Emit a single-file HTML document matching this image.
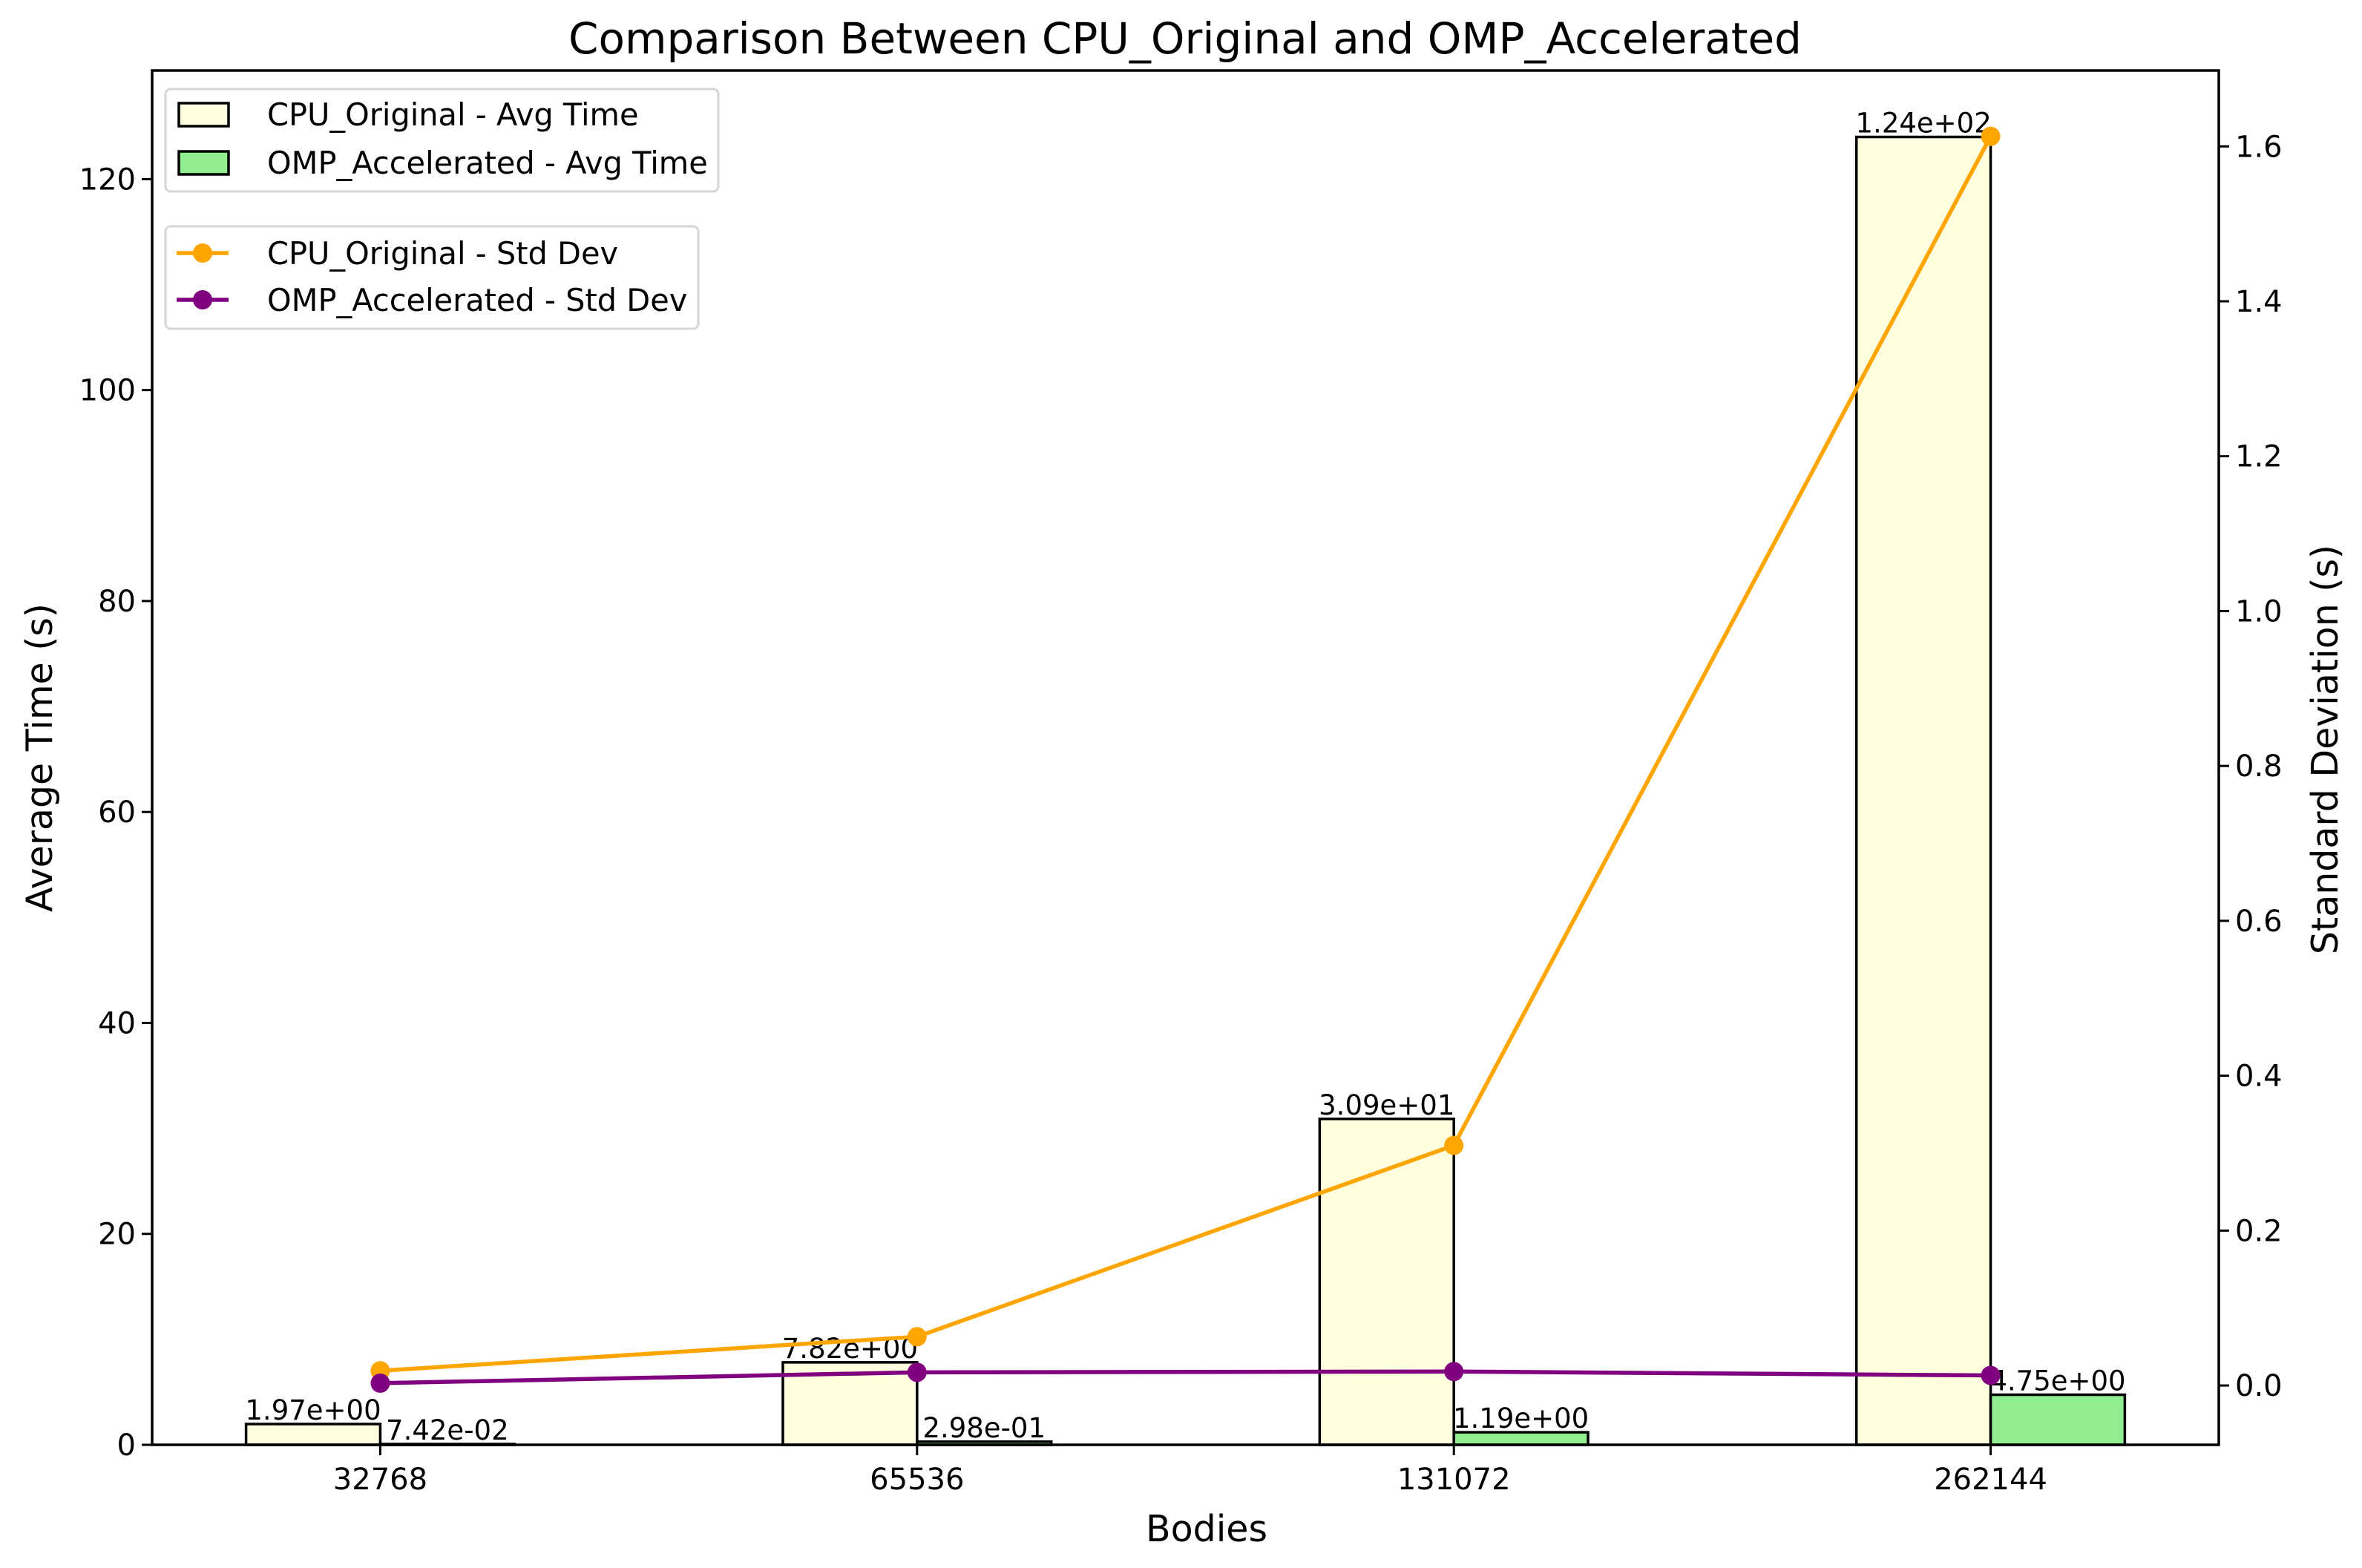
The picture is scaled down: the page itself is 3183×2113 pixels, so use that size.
<!DOCTYPE html>
<html><head><meta charset="utf-8"><style>
html,body{margin:0;padding:0;background:#fff;}
svg{display:block;font-family:"DejaVu Sans","Liberation Sans",sans-serif;}
</style></head><body>
<svg id="chart" width="3183" height="2113" viewBox="0 0 3183 2113" xmlns="http://www.w3.org/2000/svg">
<rect width="3183" height="2113" fill="#fff"/>
<g id="marks"></g>
</svg>
<script>
const categories = ["32768","65536","131072","262144"];
const cpuAvg = [1.97, 7.82, 30.9, 124];
const ompAvg = [0.0742, 0.298, 1.19, 4.75];
const cpuLabels = ["1.97e+00","7.82e+00","3.09e+01","1.24e+02"];
const ompLabels = ["7.42e-02","2.98e-01","1.19e+00","4.75e+00"];
const cpuStd = [0.019, 0.063, 0.31, 1.613];
const ompStd = [0.003, 0.017, 0.018, 0.013];
const leftTicks = [0,20,40,60,80,100,120];
const rightTicks = [0.0,0.2,0.4,0.6,0.8,1.0,1.2,1.4,1.6];

const L=205,R=2990,T=95,B=1947;
const xMin=-0.425,xMax=3.425,yMax=130.3,rMin=-0.0766,rMax=1.698;
const xS=v=>L+(v-xMin)/(xMax-xMin)*(R-L);
const yS=v=>B-v/yMax*(B-T);
const rS=v=>B-(v-rMin)/(rMax-rMin)*(B-T);
const NS="http://www.w3.org/2000/svg";
const g=document.getElementById('marks');
function mk(tag,attrs,txt){const e=document.createElementNS(NS,tag);for(const k in attrs)e.setAttribute(k,attrs[k]);if(txt!==undefined)e.textContent=txt;g.appendChild(e);return e;}
const bw=0.25;
categories.forEach((c,i)=>{
  const x0=xS(i-bw),x1=xS(i),x2=xS(i+bw);
  let e=mk('rect',{x:x0,y:yS(cpuAvg[i]),width:x1-x0,height:B-yS(cpuAvg[i]),fill:'#ffffe0',stroke:'#000','stroke-width':3.5});
  
  
  e=mk('rect',{x:x1,y:yS(ompAvg[i]),width:x2-x1,height:B-yS(ompAvg[i]),fill:'#90ee90',stroke:'#000','stroke-width':3.5});
  
  
  e=mk('text',{x:(x0+x1)/2,y:yS(cpuAvg[i])-6,'font-size':37,'text-anchor':'middle'},cpuLabels[i]);
  
  
  e=mk('text',{x:(x1+x2)/2,y:yS(ompAvg[i])-6,'font-size':37,'text-anchor':'middle'},ompLabels[i]);
  
  
});
function line(arr,color,name){
  const pts=arr.map((v,i)=>xS(i)+','+rS(v)).join(' ');
  let e=mk('polyline',{points:pts,fill:'none',stroke:color,'stroke-width':5.5,'stroke-linejoin':'round'});
  
  
  arr.forEach((v,i)=>{const m=mk('circle',{cx:xS(i),cy:rS(v),r:13,fill:color});
    
    });
}
line(cpuStd,'#ffa500','cpu-std');
line(ompStd,'#800080','omp-std');
let f=mk('rect',{x:L,y:T,width:R-L,height:B-T,fill:'none',stroke:'#000','stroke-width':3.5});


leftTicks.forEach(t=>{const y=yS(t);mk('line',{x1:L-14,x2:L,y1:y,y2:y,stroke:'#000','stroke-width':3});
  const e=mk('text',{x:L-22,y:y+14,'font-size':40,'text-anchor':'end'},String(t));
  
  });
rightTicks.forEach(t=>{const y=rS(t);mk('line',{x1:R,x2:R+14,y1:y,y2:y,stroke:'#000','stroke-width':3});
  const e=mk('text',{x:R+22,y:y+14,'font-size':40},t.toFixed(1));
  
  });
categories.forEach((c,i)=>{const x=xS(i);mk('line',{x1:x,x2:x,y1:B,y2:B+14,stroke:'#000','stroke-width':3});
  const e=mk('text',{x:x,y:B+60,'font-size':40,'text-anchor':'middle'},c);
  
  });
</script>
<svg style="position:absolute;left:0;top:0" width="3183" height="2113" xmlns="http://www.w3.org/2000/svg">
<text x="1597" y="72" font-size="58" text-anchor="middle" font-family="DejaVu Sans, sans-serif">Comparison Between CPU_Original and OMP_Accelerated</text>
<text x="1626" y="2077" font-size="49" text-anchor="middle" font-family="DejaVu Sans, sans-serif">Bodies</text>
<text transform="translate(70,1021) rotate(-90)" font-size="49" text-anchor="middle" font-family="DejaVu Sans, sans-serif">Average Time (s)</text>
<text transform="translate(3150,1010) rotate(-90)" font-size="49" text-anchor="middle" font-family="DejaVu Sans, sans-serif">Standard Deviation (s)</text>
<g font-family="DejaVu Sans, sans-serif" font-size="41.5">
<rect x="223" y="120" width="745" height="138" rx="7" fill="#fff" fill-opacity="0.8" stroke="#d6d6d6" stroke-width="3"/>
<rect x="241" y="139" width="67" height="31" fill="#ffffe0" stroke="#000" stroke-width="3.5"/>
<text x="360" y="169">CPU_Original - Avg Time</text>
<rect x="241" y="204" width="67" height="31" fill="#90ee90" stroke="#000" stroke-width="3.5"/>
<text x="360" y="234">OMP_Accelerated - Avg Time</text>
</g>
<g font-family="DejaVu Sans, sans-serif" font-size="41.5">
<rect x="223" y="305" width="718" height="138" rx="7" fill="#fff" fill-opacity="0.8" stroke="#d6d6d6" stroke-width="3"/>
<line x1="238" x2="308" y1="341" y2="341" stroke="#ffa500" stroke-width="5.5"/>
<circle cx="273" cy="341" r="13" fill="#ffa500"/>
<text x="360" y="356">CPU_Original - Std Dev</text>
<line x1="238" x2="308" y1="404" y2="404" stroke="#800080" stroke-width="5.5"/>
<circle cx="273" cy="404" r="13" fill="#800080"/>
<text x="360" y="419">OMP_Accelerated - Std Dev</text>
</g>
</svg>
</body></html>
